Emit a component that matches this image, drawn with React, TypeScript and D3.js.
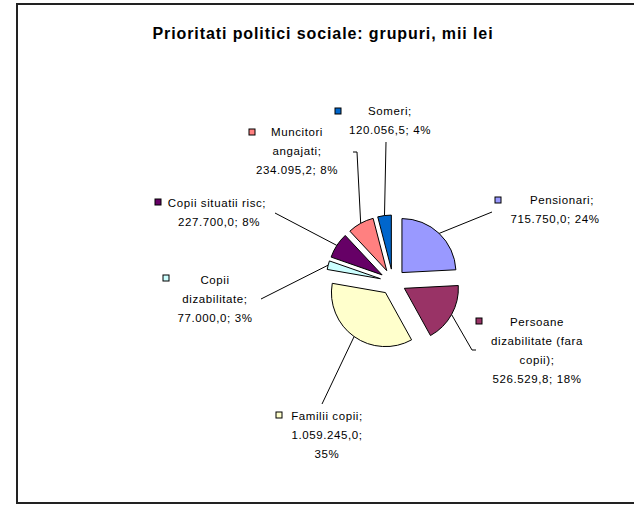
import React from "react";
import * as d3 from "d3";

const title = "Prioritati politici sociale: grupuri, mii lei";
const categories = [
  "Pensionari",
  "Persoane dizabilitate (fara copii)",
  "Familii copii",
  "Copii dizabilitate",
  "Copii situatii risc",
  "Muncitori angajati",
  "Someri",
];
const values = [715750.0, 526529.8, 1059245.0, 77000.0, 227700.0, 234095.2, 120056.5];
const colors = ["#9999FF", "#993366", "#FFFFCC", "#CCFFFF", "#660066", "#FF8080", "#0066CC"];
const labelLines = [
  ["Pensionari;", "715.750,0; 24%"],
  ["Persoane", "dizabilitate (fara", "copii);", "526.529,8; 18%"],
  ["Familii copii;", "1.059.245,0;", "35%"],
  ["Copii", "dizabilitate;", "77.000,0; 3%"],
  ["Copii situatii risc;", "227.700,0; 8%"],
  ["Muncitori", "angajati;", "234.095,2; 8%"],
  ["Someri;", "120.056,5; 4%"],
];

// layout (positions of labels, markers and leader-line label ends)
const labelLayout = [
  { x: 555, y: 200, first: 562, marker: [498, 200], leader: [[492, 212]] },
  { x: 537, y: 322, first: 537, marker: [479, 321], leader: [[476, 350], [472, 350]] },
  { x: 327, y: 416, first: 327, marker: [279, 415], leader: [[322, 404]] },
  { x: 215, y: 280, first: 215, marker: [166, 278], leader: [[261, 299]] },
  { x: 219, y: 203, first: 217, marker: [158, 202], leader: [[275, 213]] },
  { x: 297, y: 132, first: 297, marker: [252, 132], leader: [[353, 152], [357, 152]] },
  { x: 390, y: 111, first: 390, marker: [338, 111], leader: [[386, 142]] },
];

const W = 634;
const H = 505;
const cx = 393;
const cy = 282;
const R = 54;
const EXPLODE = 13;
const LINE_H = 19;

export default function App() {
  const pie = d3.pie<number>().sort(null).value((d) => d);
  const arcs = pie(values);
  const arc = d3.arc<d3.PieArcDatum<number>>().innerRadius(0).outerRadius(R);
  const font = "'Liberation Sans', Arial, sans-serif";

  return (
    <svg
      width={W}
      height={H}
      style={{ position: "absolute", left: 0, top: 0, background: "#fff" }}
    >
      <rect x={17} y={4} width={W} height={499} fill="#fff" stroke="#222" strokeWidth={2} />
      <text
        x={323}
        y={39}
        textAnchor="middle"
        fontFamily={font}
        fontWeight="bold"
        fontSize={16}
        letterSpacing={0.9}
        fill="#000"
      >
        {title}
      </text>
      {arcs.map((a, i) => {
        const mid = (a.startAngle + a.endAngle) / 2;
        const ox = cx + EXPLODE * Math.sin(mid);
        const oy = cy - EXPLODE * Math.cos(mid);
        const ex = ox + R * Math.sin(mid);
        const ey = oy - R * Math.cos(mid);
        const lay = labelLayout[i];
        const pts = [...lay.leader, [ex, ey]];
        return (
          <g key={categories[i]}>
            <path
              d={arc(a) || ""}
              transform={`translate(${ox},${oy})`}
              fill={colors[i]}
              stroke="#000"
              strokeWidth={1}
            />
            <polyline
              points={pts.map((p) => p.join(",")).join(" ")}
              fill="none"
              stroke="#000"
              strokeWidth={1}
            />
          </g>
        );
      })}
      {labelLayout.map((lay, i) => (
        <g key={"l" + i} fontFamily={font} fontSize={11.5} fill="#000" letterSpacing={0.6}>
          <rect
            x={lay.marker[0] - 3}
            y={lay.marker[1] - 3}
            width={6}
            height={6}
            fill={colors[i]}
            stroke="#000"
            strokeWidth={1}
          />
          {labelLines[i].map((line, j) => (
            <text
              key={j}
              x={j === 0 ? lay.first : lay.x}
              y={lay.y + j * LINE_H + 4}
              textAnchor="middle"
            >
              {line}
            </text>
          ))}
        </g>
      ))}
    </svg>
  );
}
